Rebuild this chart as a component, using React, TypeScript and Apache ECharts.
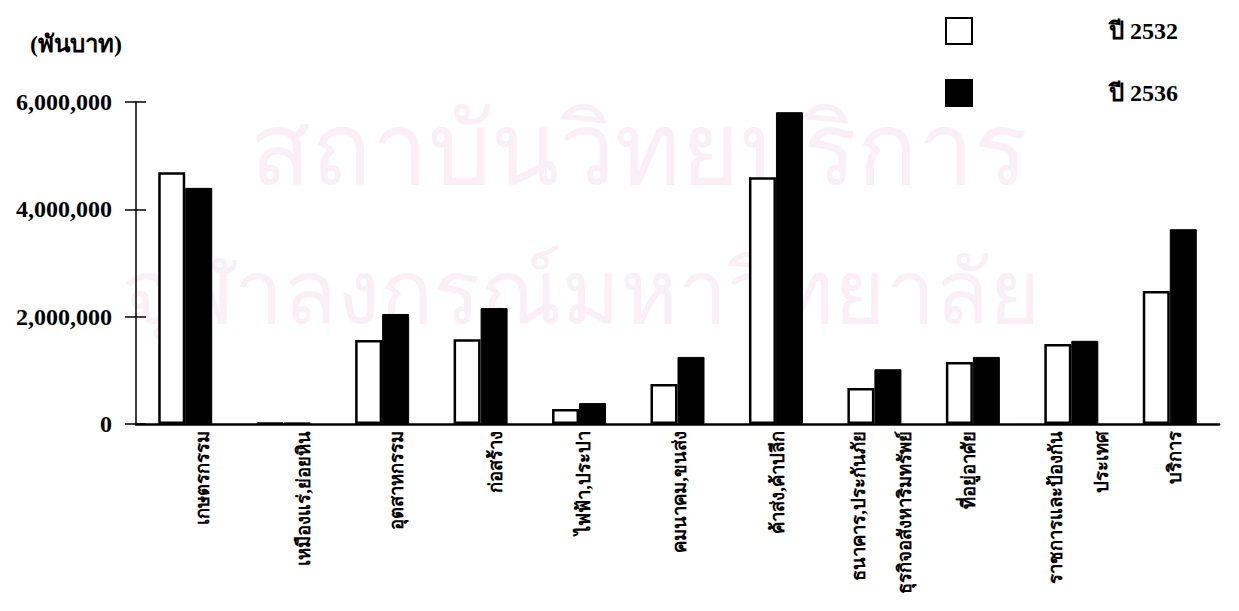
import React, { useEffect, useRef } from "react";
import * as echarts from "echarts";

const categories = [
  "เกษตรกรรม",
  "เหมืองแร่,ย่อยหิน",
  "อุตสาหกรรม",
  "ก่อสร้าง",
  "ไฟฟ้า,ประปา",
  "คมนาคม,ขนส่ง",
  "ค้าส่ง,ค้าปลีก",
  "ธนาคาร,ประกันภัย\n\nธุรกิจอสังหาริมทรัพย์",
  "ที่อยู่อาศัย",
  "ราชการและป้องกัน\n\nประเทศ",
  "บริการ",
];
const seriesNames = ["ปี 2532", "ปี 2536"];
const values2532 = [4690000, 20000, 1565000, 1580000, 280000, 745000, 4600000, 670000, 1155000, 1490000, 2480000];
const values2536 = [4400000, 30000, 2050000, 2160000, 390000, 1250000, 5810000, 1020000, 1250000, 1550000, 3630000];
const yTicks = [0, 2000000, 4000000, 6000000];
const unitLabel = "(พันบาท)";
const watermark1 = "สถาบันวิทยบริการ";
const watermark2 = "จุฬาลงกรณ์มหาวิทยาลัย";

// horizontal nudge (px, to the right) of each rotated category label
const labelShift = [18, 20, 15, 15, 5, 2, 2, 8, -4, 8, 5];

const serif = "'Liberation Serif', 'DejaVu Serif', serif";

export default function App() {
  const ref = useRef<HTMLDivElement>(null);
  useEffect(() => {
    document.body.style.margin = "0";
    const chart = echarts.init(ref.current!, undefined, { renderer: "svg" });
    const fmt = (v: number) => v.toLocaleString("en-US");
    const rich: Record<string, any> = {
      t: { fontSize: 18.5, fontWeight: "bold", lineHeight: 23, fontFamily: serif, color: "#000" },
    };
    labelShift.forEach((s, i) => {
      rich["g" + i] = { fontSize: 1, lineHeight: Math.max(1, Math.abs(s) * 2) };
    });
    const labelFormatter = (value: string, index: number) => {
      const s = labelShift[index] || 0;
      const body = value
        .split("\n")
        .map((l) => `{t|${l === "" ? " " : l}}`)
        .join("\n");
      if (s > 0) return `{g${index}| }\n${body}`;
      if (s < 0) return `${body}\n{g${index}| }`;
      return body;
    };
    chart.setOption({
      animation: false,
      backgroundColor: "#ffffff",
      graphic: [
        {
          type: "text",
          left: 250,
          top: 95,
          z: -10,
          silent: true,
          style: { text: watermark1, fill: "#faeff5", font: "100px 'Noto Sans', sans-serif" },
        },
        {
          type: "text",
          left: 122,
          top: 245,
          z: -10,
          silent: true,
          style: { text: watermark2, fill: "#faeff5", font: "88px 'Noto Sans', sans-serif" },
        },
      ],
      legend: {
        orient: "vertical",
        left: 940,
        top: 12,
        itemWidth: 26,
        itemHeight: 26,
        itemGap: 34,
        icon: "rect",
        data: seriesNames,
        textStyle: {
          fontFamily: serif,
          fontSize: 24,
          lineHeight: 26,
          fontWeight: "bold",
          color: "#000",
          padding: [0, 0, 0, 132],
        },
      },
      grid: { left: 136, right: 20, top: 102, bottom: 187, containLabel: false },
      xAxis: {
        type: "category",
        data: categories,
        axisLine: { lineStyle: { color: "#000", width: 2.5 } },
        axisTick: { show: false },
        axisLabel: {
          interval: 0,
          rotate: 90,
          margin: 7,
          color: "#000",
          fontSize: 18.5,
          fontWeight: "bold",
          lineHeight: 23,
          fontFamily: serif,
          formatter: labelFormatter,
          rich,
        },
      },
      yAxis: [
        {
          type: "value",
          min: 0,
          max: 6000000,
          interval: 2000000,
          name: unitLabel,
          nameLocation: "end",
          nameGap: 46,
          nameTextStyle: {
            align: "right",
            fontFamily: serif,
            fontSize: 24,
            fontWeight: "bold",
            color: "#000",
            padding: [0, 14, 0, 0],
          },
          axisLine: { show: true, lineStyle: { color: "#000", width: 1.5 } },
          axisTick: { show: true, length: 11, lineStyle: { color: "#000", width: 1.5 } },
          splitLine: { show: false },
          axisLabel: {
            margin: 24,
            color: "#000",
            fontSize: 24,
            fontWeight: "bold",
            fontFamily: serif,
            formatter: (v: number) => (yTicks.includes(v) ? fmt(v) : ""),
          },
        },
        {
          type: "value",
          min: 0,
          max: 6000000,
          interval: 2000000,
          position: "left",
          axisLine: { show: false },
          axisTick: { show: true, inside: true, length: 10, lineStyle: { color: "#000", width: 1.5 } },
          axisLabel: { show: false },
          splitLine: { show: false },
        },
      ],
      series: [
        {
          name: seriesNames[0],
          type: "bar",
          data: values2532,
          barWidth: 27,
          barGap: "0%",
          itemStyle: { color: "#ffffff", borderColor: "#000", borderWidth: 2.5 },
        },
        {
          name: seriesNames[1],
          type: "bar",
          data: values2536,
          barWidth: 27,
          barGap: "0%",
          itemStyle: { color: "#000000", borderColor: "#000", borderWidth: 1 },
        },
      ],
    });
    return () => chart.dispose();
  }, []);
  return <div ref={ref} style={{ position: "absolute", left: 0, top: 0, width: 1239, height: 611 }} />;
}
